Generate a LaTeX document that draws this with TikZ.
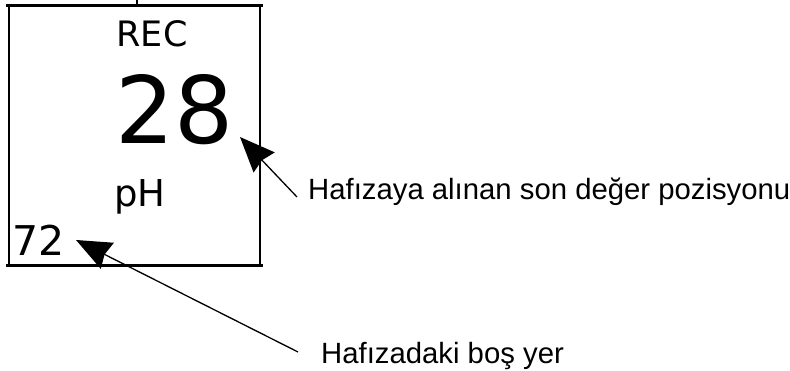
\documentclass[tikz,border=0pt]{standalone}
\usepackage{fontspec}
\setmainfont{Liberation Sans}
\newfontfamily\dv{DejaVu Sans}
\usetikzlibrary{arrows.meta}
\tikzset{
  lcdtext/.style={text=black,inner sep=0pt},
  captext/.style={font=\fontsize{29.3}{32}\selectfont,text=black,inner sep=0pt,anchor=base west},
  pointer/.style={draw=black,line width=1.3pt,-{Stealth[length=35pt,width=29pt,inset=3pt]}}
}
\begin{document}
\begin{tikzpicture}[x=1pt,y=-1pt]
\useasboundingbox (0,0) rectangle (790,371);
\fill[white] (0,0) rectangle (790,371);
\draw[line width=3pt] (6,6) -- (263,6);
\draw[line width=3pt] (6,266) -- (263,266);
\draw[line width=2pt] (9,6) -- (9,266);
\draw[line width=2pt] (260,6) -- (260,266);
\draw[line width=2pt] (137,0) -- (137,6);
\node[lcdtext,font=\dv\fontsize{35}{40}\selectfont] (rec) at (152,34) {REC};
\node[lcdtext,font=\dv\fontsize{93}{100}\selectfont] (val) at (175,110) {28};
\node[lcdtext,font=\dv\fontsize{37}{42}\selectfont] (ph) at (140,197) {pH};
\node[lcdtext,font=\dv\fontsize{41}{46}\selectfont] (free) at (39,240) {72};
\node[captext] (c1) at (308,200) {Hafızaya alınan son değer pozisyonu};
\node[captext] (c2) at (321,363) {Hafızadaki boş yer};
\coordinate (s1) at (297,197);
\coordinate (e1) at (240,137);
\coordinate (s2) at (298,352);
\coordinate (e2) at (76,240);
\draw[pointer] (s1) -- (e1);
\draw[pointer] (s2) -- (e2);
\end{tikzpicture}
\end{document}
